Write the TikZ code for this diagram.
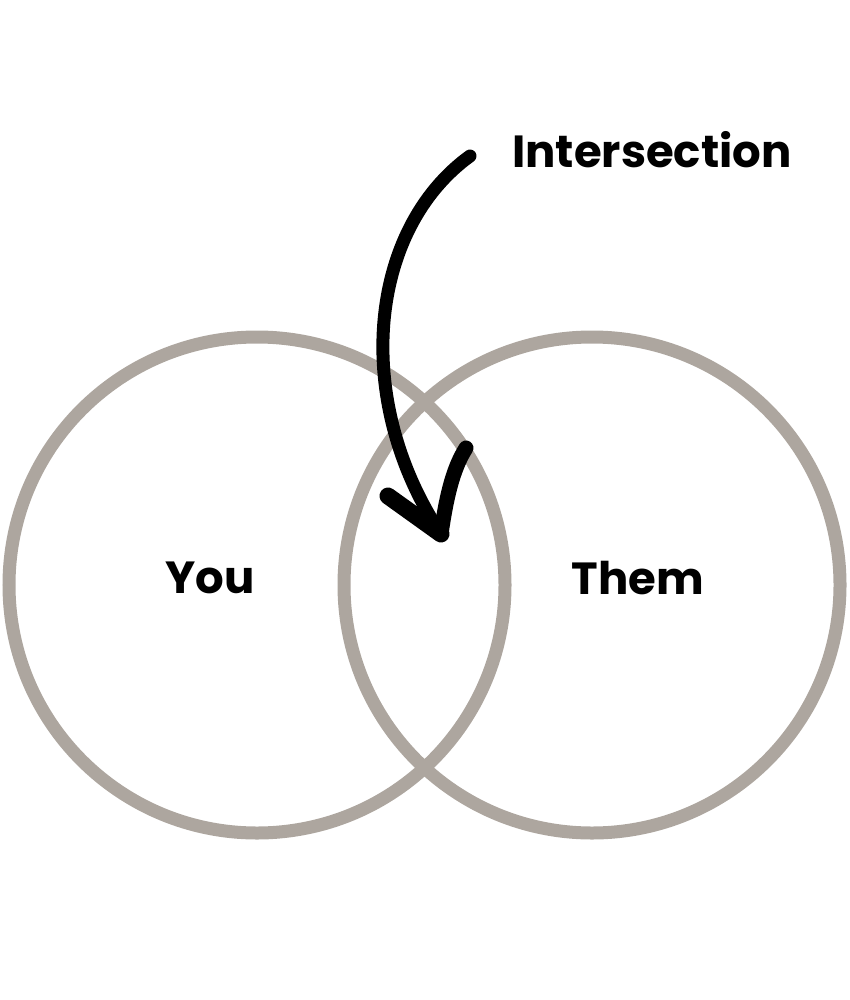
\documentclass[tikz,border=0pt]{standalone}
\usepackage{fontspec}
\setmainfont{Poppins}
\definecolor{ringgray}{HTML}{ADA69F}
\begin{document}
\begin{tikzpicture}[x=1pt, y=-1pt,
   ring/.style={draw=ringgray, line width=13pt},
   word/.style={font=\bfseries\fontsize{45}{45}\selectfont, inner sep=0pt},
   brush/.style={draw=black, line width=15pt, line cap=round, line join=round}]

   \useasboundingbox (0,0) rectangle (850,1000);

   \def\yc{585}; % circle centres
   \def\xl{257}; % left centre
   \def\xr{592}; % right centre
   \def\rr{248}; % radius

   \draw[ring] (\xl, \yc) circle (\rr);
   \draw[ring] (\xr, \yc) circle (\rr);

   \node[word] (you) at (210, 578) {You};
   \node[word] (them) at (638, 578) {Them};
   \node[word] (inter) at (652, 150) {Intersection};

   \coordinate (tail) at (470, 156);
   \coordinate (tip) at (441, 534);
   \coordinate (barbl) at (388, 496);
   \coordinate (barbr) at (466, 448);

   \draw[brush, line width=13pt] (tail) .. controls (368, 230) and (352, 400) .. (tip);
   \draw[brush, line width=17pt] (barbl) -- (tip);
   \draw[brush, line width=15pt] (barbr) .. controls (452, 470) and (446, 500) .. (tip);

\end{tikzpicture}
\end{document}
